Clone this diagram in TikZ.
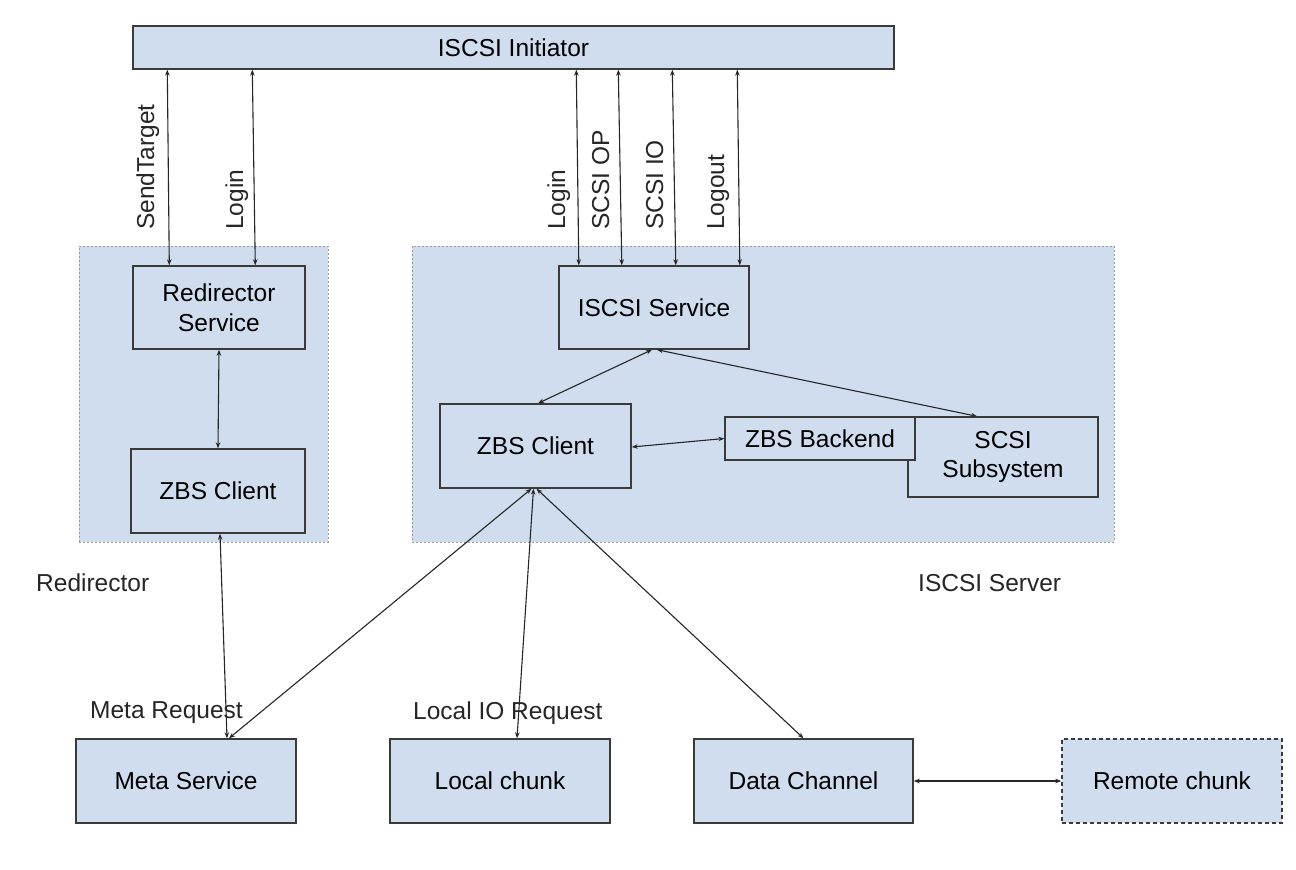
\documentclass[tikz,border=0pt]{standalone}
\usepackage{fontspec}
\setmainfont{Liberation Sans}
\usetikzlibrary{arrows.meta}
\definecolor{boxfill}{HTML}{CFDDEE}
\definecolor{boxline}{HTML}{3A3A3A}
\definecolor{grpline}{HTML}{9A9A9A}
\newcommand\dfont{\fontsize{24.5}{29.5}\selectfont}
\tikzset{
  box/.style={draw=boxline, line width=1.4pt, fill=boxfill, inner sep=0pt, align=center, font=\dfont},
  grp/.style={draw=grpline, line width=1pt, dash pattern=on 2pt off 2pt, fill=boxfill, inner sep=0pt},
  remotebox/.style={box, dash pattern=on 4pt off 3pt},
  lbl/.style={inner sep=0pt, font=\dfont, text=black!85},
  vlbl/.style={lbl, rotate=90, anchor=base west},
  conn/.style={{Stealth[length=6pt,width=4.5pt]}-{Stealth[length=6pt,width=4.5pt]}, line width=1.1pt, draw=black!85}
}
\begin{document}
\begin{tikzpicture}[x=1pt,y=-1pt]
\useasboundingbox[fill=white] (0,0) rectangle (1296,870);

% groups
\node[grp, minimum width=249, minimum height=296] (g1) at (203.5,394) {};
\node[grp, minimum width=702, minimum height=296] (g2) at (763,394) {};

% top bar
\node[box, minimum width=761, minimum height=43] (bar) at (513.5,47.5) {ISCSI Initiator};

% redirector group
\node[box, minimum width=172, minimum height=83] (rs) at (219,307.5) {Redirector\\Service};
\node[box, minimum width=174, minimum height=84] (zl) at (218,491) {ZBS Client};

% iscsi server group
\node[box, minimum width=190, minimum height=83] (iss) at (654,307.5) {ISCSI Service};
\node[box, minimum width=191, minimum height=84] (zr) at (535.5,446) {ZBS Client};
\node[box, minimum width=190, minimum height=80] (scsi) at (1003,457) {SCSI\\Subsystem};
\node[box, minimum width=190, minimum height=43] (zb) at (820,438.5) {ZBS Backend};

% bottom row
\node[box, minimum width=220, minimum height=84] (ms) at (186,781) {Meta Service};
\node[box, minimum width=220, minimum height=84] (lc) at (500,781) {Local chunk};
\node[box, minimum width=219, minimum height=84] (dc) at (803.5,781) {Data Channel};
\node[remotebox, minimum width=220, minimum height=84] (rc) at (1172,781) {Remote chunk};

% free labels
\node[lbl, anchor=west] (lred) at (36,583) {Redirector};
\node[lbl, anchor=west] (lsrv) at (918,583) {ISCSI Server};
\node[lbl, anchor=west] (lmeta) at (90,713) {Meta Request};
\node[lbl, anchor=west] (llio) at (413,713) {Local IO Request};

% vertical labels
\node[vlbl] (tsend) at (154,230) {SendTarget};
\node[vlbl] (tlog1) at (243,230) {Login};
\node[vlbl] (tlog2) at (565,230) {Login};
\node[vlbl] (top) at (609,230) {SCSI OP};
\node[vlbl] (tio) at (663,230) {SCSI IO};
\node[vlbl] (tout) at (724,230) {Logout};

% connectors from initiator
\draw[conn] ([xshift=35pt]bar.south west) -- ([xshift=37pt]rs.north west);
\draw[conn] ([xshift=120pt]bar.south west) -- ([xshift=123pt]rs.north west);
\draw[conn] ([xshift=444pt]bar.south west) -- ([xshift=20.5pt]iss.north west);
\draw[conn] ([xshift=486pt]bar.south west) -- ([xshift=63.5pt]iss.north west);
\draw[conn] ([xshift=540pt]bar.south west) -- ([xshift=117.5pt]iss.north west);
\draw[conn] ([xshift=605pt]bar.south west) -- ([xshift=181.5pt]iss.north west);

% redirector internal
\draw[conn] (rs.south) -- (zl.north);
\draw[conn] ([xshift=2pt]zl.south) -- ([xshift=41pt]ms.north);

% iscsi internal
\draw[conn] ([xshift=-2pt]iss.south) -- ([xshift=2.5pt]zr.north);
\draw[conn] ([xshift=3pt]iss.south) -- ([xshift=-26pt]scsi.north);
\draw[conn] ([yshift=-1pt]zr.east) -- (zb.west);

% to bottom row
\draw[conn] ([xshift=-4pt]zr.south) -- ([xshift=43pt]ms.north);
\draw[conn] ([xshift=-2pt]zr.south) -- ([xshift=17pt]lc.north);
\draw[conn] ([xshift=1pt]zr.south) -- (dc.north);
\draw[conn] (dc.east) -- (rc.west);
\end{tikzpicture}
\end{document}
